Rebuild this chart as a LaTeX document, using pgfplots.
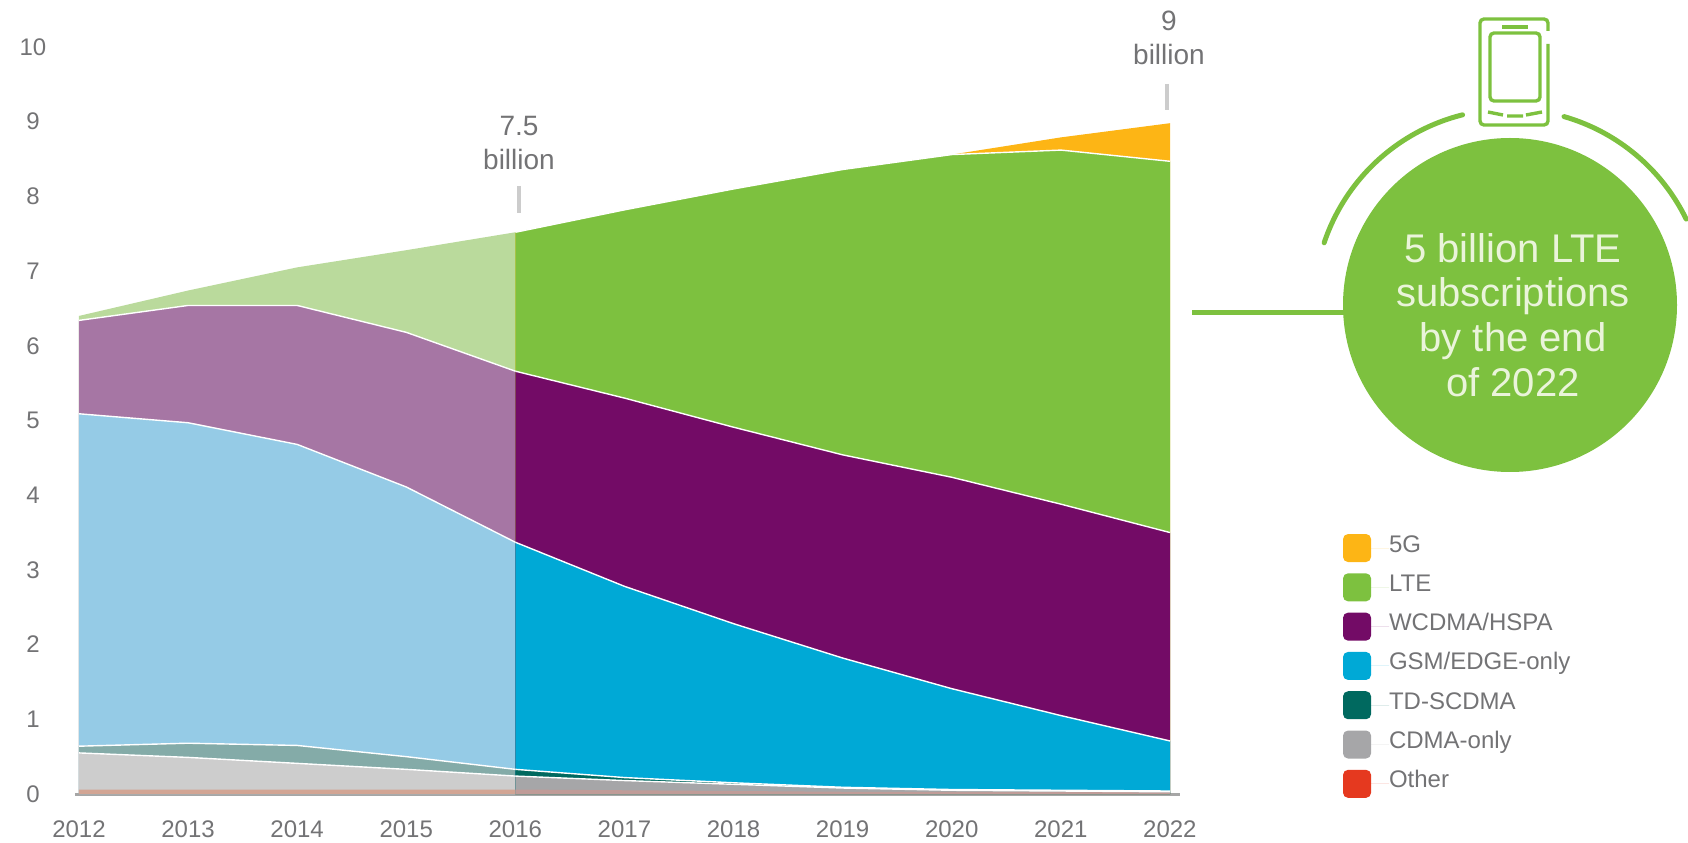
\documentclass[border=0pt]{standalone}
\usepackage{pgfplots}
\usepackage{pgfplotstable}
\usepackage{fontspec}
\setmainfont{Liberation Sans}
\pgfplotsset{compat=1.18}

\definecolor{c5g}{HTML}{FDB515}
\definecolor{clte}{HTML}{7DC13F}
\definecolor{cwcdma}{HTML}{730B66}
\definecolor{cgsm}{HTML}{00A9D6}
\definecolor{ctd}{HTML}{00695F}
\definecolor{ccdma}{HTML}{A6A6A8}
\definecolor{cother}{HTML}{E5391F}
\definecolor{bother}{HTML}{C09C98}
% lighter versions, up to 2016
\definecolor{hlte}{HTML}{BADA9C}
\definecolor{hwcdma}{HTML}{A676A4}
\definecolor{hgsm}{HTML}{95CBE6}
\definecolor{htd}{HTML}{84ABA8}
\definecolor{hcdma}{HTML}{CDCDCD}
\definecolor{hother}{HTML}{D2A594}
\definecolor{txt}{HTML}{737375}
\definecolor{cream}{HTML}{EAF4DA}

% top edge of every band, in billions
\pgfplotstableread{
year lte  wcdma gsm  td   cdma other
2012 6.40 6.34  5.09 0.64 0.55 0.06
2013 6.74 6.54  4.97 0.68 0.49 0.06
2014 7.05 6.54  4.68 0.65 0.41 0.06
2015 7.28 6.18  4.11 0.50 0.33 0.06
2016 7.52 5.66  3.37 0.33 0.24 0.06
}\hist
\pgfplotstableread{
year g5   lte  wcdma gsm  td   cdma other
2016 7.52 7.52 5.66  3.37 0.33 0.24 0.06
2017 7.82 7.82 5.30  2.78 0.22 0.18 0.05
2018 8.10 8.10 4.91  2.28 0.15 0.13 0.04
2019 8.36 8.36 4.54  1.82 0.09 0.08 0.03
2020 8.56 8.56 4.24  1.41 0.06 0.05 0.03
2021 8.79 8.62 3.88  1.05 0.05 0.04 0.03
2022 8.98 8.47 3.50  0.71 0.04 0.03 0.02
}\fcst

\begin{document}
\begin{tikzpicture}
\path[use as bounding box] (0,0) rectangle (844pt,421pt);
\begin{axis}[
    at={(39.5pt,24pt)}, anchor=south west,
    scale only axis, width=545.5pt, height=373.5pt,
    xmin=2012, xmax=2022, ymin=0, ymax=10,
    xtick={2012,...,2022}, ytick={0,...,10},
    axis lines=left, axis line style={-},
    y axis line style={draw=none},
    x axis line style={draw=black!35, line width=1.5pt, shorten >=-5pt, shorten <=-2pt},
    major tick length=0pt,
    /pgf/number format/1000 sep={},
    /pgf/number format/assume math mode=true,
    ticklabel style={font=\fontsize{12}{14}\selectfont, text=txt},
    xticklabel style={yshift=-9.7pt},
    yticklabel style={anchor=center, xshift=-23pt},
    legend style={at={(1.1586,0.348)}, anchor=north west, draw=none, fill=none,
        inner sep=0pt, outer sep=0pt, font=\fontsize{12}{14}\selectfont, text=txt,
        row sep=5.65pt, nodes={text height=9pt, text depth=5pt, inner sep=0pt}},
    legend cell align=left,
    legend image code/.code={
        \fill[#1, rounded corners=2.5pt] (0pt,-7pt) rectangle (14pt,7pt);
        \path[draw=none] (0pt,0pt) -- (23pt,0pt);},
]
% history, lighter
\addplot[fill=hlte, draw=none, forget plot] table[x=year,y=lte]{\hist} \closedcycle;
\addplot[fill=hwcdma, draw=none, forget plot] table[x=year,y=wcdma]{\hist} \closedcycle;
\addplot[fill=hgsm, draw=none, forget plot] table[x=year,y=gsm]{\hist} \closedcycle;
\addplot[fill=htd, draw=none, forget plot] table[x=year,y=td]{\hist} \closedcycle;
\addplot[fill=hcdma, draw=none, forget plot] table[x=year,y=cdma]{\hist} \closedcycle;
\addplot[fill=hother, draw=none, forget plot] table[x=year,y=other]{\hist} \closedcycle;
% forecast
\addplot[fill=c5g, draw=none] table[x=year,y=g5]{\fcst} \closedcycle;
\addlegendentry{5G}
\addplot[fill=clte, draw=none] table[x=year,y=lte]{\fcst} \closedcycle;
\addlegendentry{LTE}
\addplot[fill=cwcdma, draw=none] table[x=year,y=wcdma]{\fcst} \closedcycle;
\addlegendentry{WCDMA/HSPA}
\addplot[fill=cgsm, draw=none] table[x=year,y=gsm]{\fcst} \closedcycle;
\addlegendentry{GSM/EDGE-only}
\addplot[fill=ctd, draw=none] table[x=year,y=td]{\fcst} \closedcycle;
\addlegendentry{TD-SCDMA}
\addplot[fill=ccdma, draw=none] table[x=year,y=cdma]{\fcst} \closedcycle;
\addlegendentry{CDMA-only}
% the band itself is muted, the legend swatch is red
\addplot[fill=bother, draw=none, forget plot] table[x=year,y=other]{\fcst} \closedcycle;
\addlegendimage{fill=cother, draw=none}
\addlegendentry{Other}
% white edges between the bands
\pgfplotsinvokeforeach{wcdma,gsm,td,cdma}{
    \addplot[white, line width=0.7pt, forget plot] table[x=year,y=#1]{\hist};
    \addplot[white, line width=0.7pt, forget plot] table[x=year,y=#1]{\fcst};
}
\addplot[white, line width=0.7pt, forget plot] table[x=year,y=lte]{\fcst};
\end{axis}

% callouts and badge, in pixels of the reference from the top left
\begin{scope}[shift={(0,421pt)}, x=0.5pt, y=-0.5pt]
\node[text=txt, align=center, font=\fontsize{14}{17}\selectfont] at (519,143) {7.5\\billion};
\draw[black!20, line width=2pt] (519,186) -- (519,213);
\node[text=txt, align=center, font=\fontsize{14}{17}\selectfont] at (1169,38) {9\\billion};
\draw[black!20, line width=2pt] (1167,84) -- (1167,110);

\fill[clte] (1510,305) circle[radius=167];
\draw[clte, line width=2.5pt] (1192,313) -- (1350,313);
\draw[clte, line width=2.5pt, line cap=round]
    (1510,305) ++(-161.5:196) arc[start angle=-161.5, end angle=-104, radius=196];
\draw[clte, line width=2.5pt, line cap=round]
    (1510,305) ++(-74:196) arc[start angle=-74, end angle=-26, radius=196];
\node[text=cream, align=center, font=\fontsize{20}{22.4}\selectfont] at (1513,315)
    {5 billion LTE\\subscriptions\\by the end\\of 2022};

% phone
\draw[clte, line width=1.7pt, rounded corners=2pt]
    (1548,44) -- (1548,125) -- (1480,125) -- (1480,19) -- (1548,19) -- (1548,31);
\draw[clte, line width=1.7pt, rounded corners=2pt] (1490,33) rectangle (1540,101);
\draw[clte, line width=1.7pt] (1502,27) -- (1528,27);
\draw[clte, line width=1.7pt] (1488,112) -- (1503,115) (1507,116) -- (1523,116) (1526,115) -- (1542,112);
\end{scope}
\end{tikzpicture}
\end{document}
